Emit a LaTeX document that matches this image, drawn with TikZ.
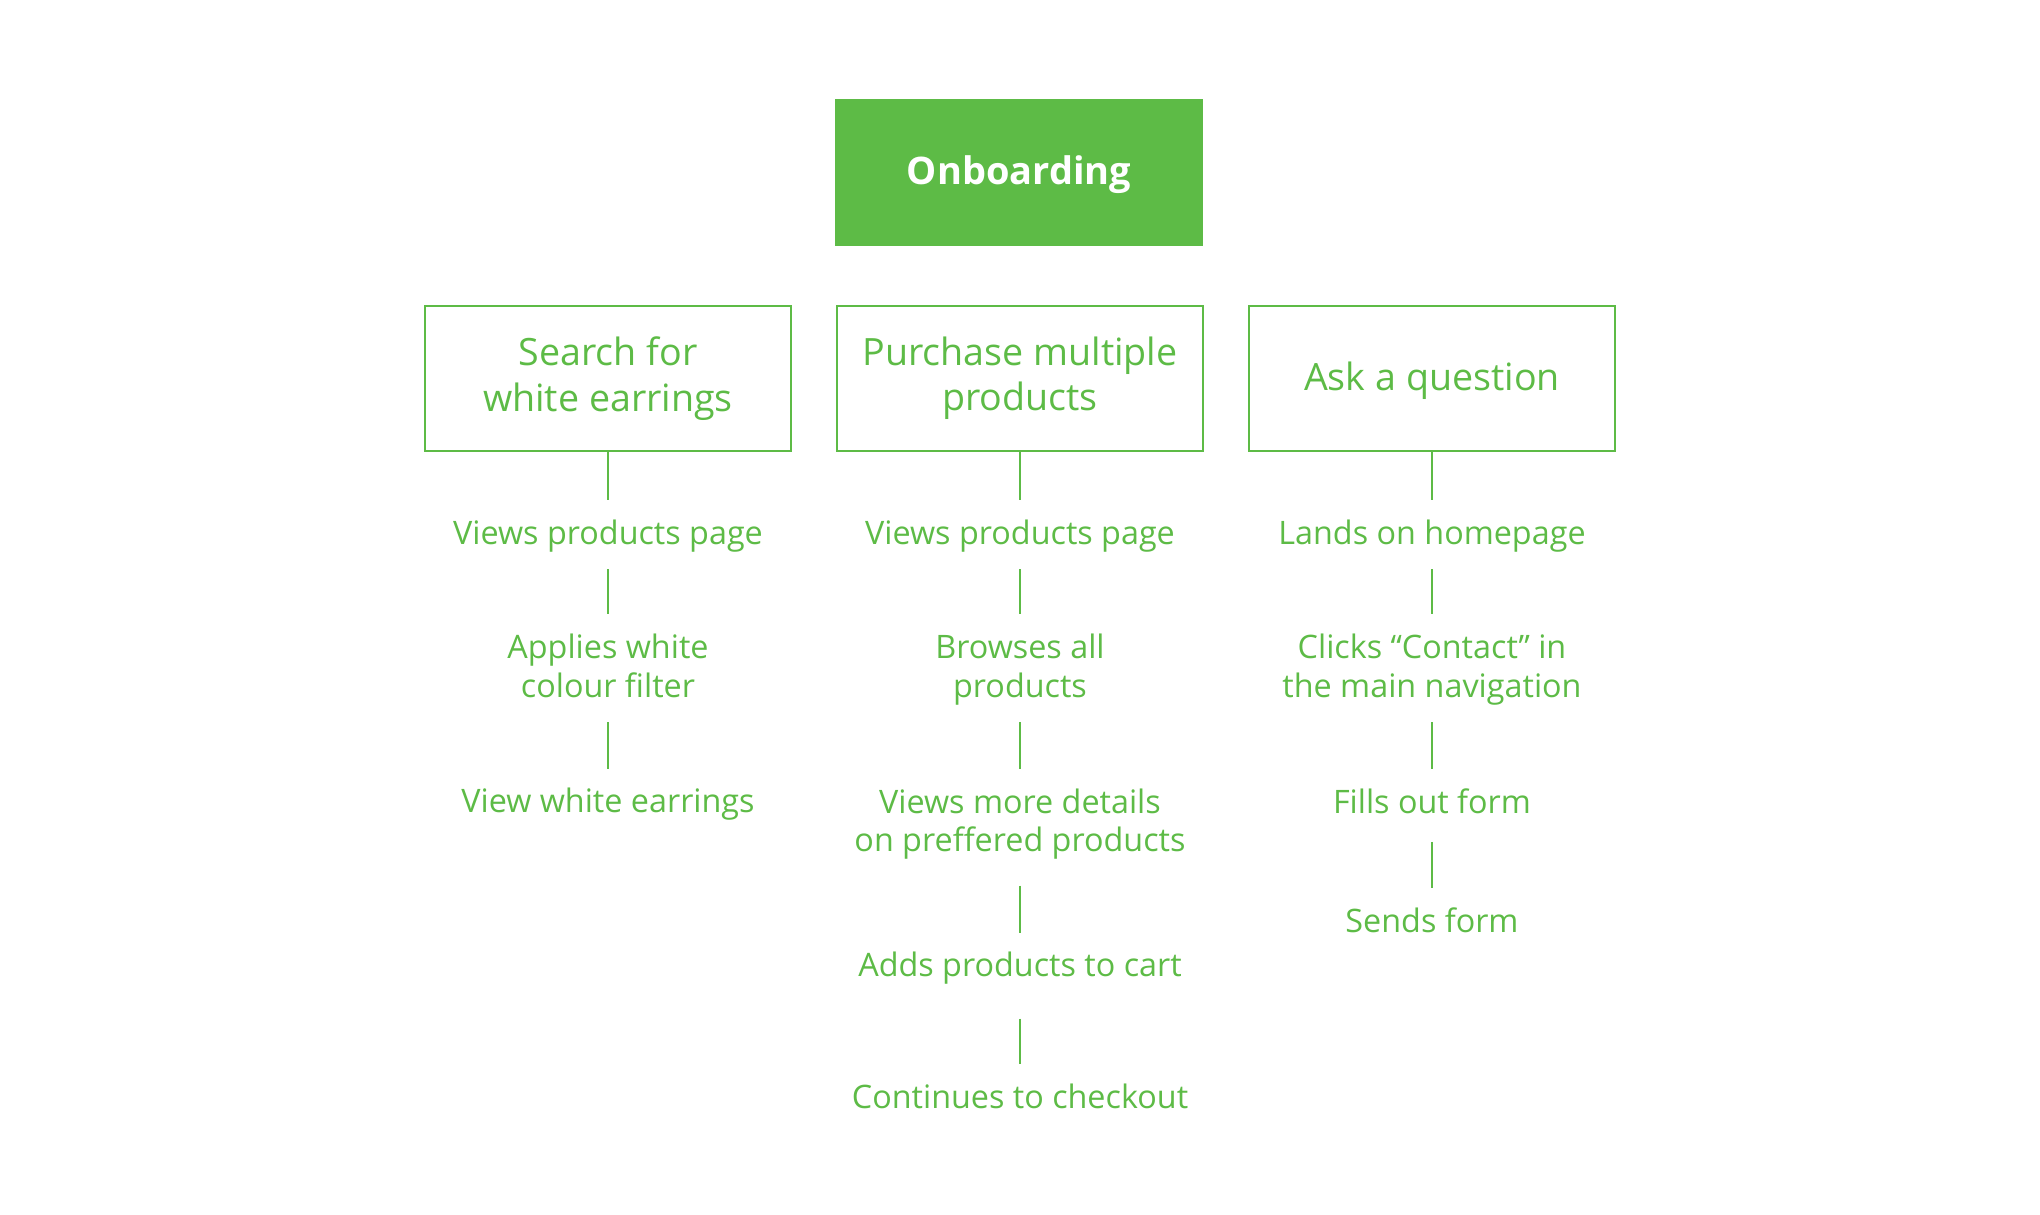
\documentclass[tikz,border=0pt]{standalone}
\usepackage{fontspec}
\setmainfont{Open Sans}
\usetikzlibrary{positioning}
\definecolor{brand}{HTML}{5DBB46}
\tikzset{
  title/.style={fill=brand,text=white,minimum width=3.68cm,minimum height=1.465cm,font=\fontsize{10.8pt}{13pt}\selectfont\bfseries,
    execute at begin node=\rule{0pt}{9.7pt}},
  goal/.style={draw=brand,text=brand,minimum width=3.66cm,minimum height=1.45cm,align=center,font=\fontsize{10.7pt}{12.9pt}\selectfont,
    execute at begin node=\rule{0pt}{9.6pt}},
  stage/.style={text=brand,align=center,inner xsep=0pt,inner ysep=1.6mm,font=\fontsize{9.2pt}{11pt}\selectfont,
    execute at begin node=\vphantom{l},execute at end node=\vphantom{g}},
  link/.style={draw=brand,shorten >=0.25mm}
}

\begin{document}
\begin{tikzpicture}[line width=0.6pt]
  \useasboundingbox (0,0) rectangle (20.40,-12.15);

  \node[title] (onb) at (10.19,-1.725) {Onboarding};

  % goals
  \node[goal] (g1) at (6.08,-3.785) {Search for\\white earrings};
  \node[goal] (g2) at (10.20,-3.785) {Purchase multiple\\products};
  \node[goal] (g3) at (14.32,-3.785) {Ask a question};

  % first journey
  \node[stage] (s11) at (6.08,-5.36) {Views products page};
  \node[stage] (s12) at (6.08,-6.695) {Applies white\\colour filter};
  \node[stage] (s13) at (6.08,-8.045) {View white earrings};

  % second journey
  \node[stage] (s21) at (10.20,-5.36) {Views products page};
  \node[stage] (s22) at (10.20,-6.695) {Browses all\\products};
  \node[stage] (s23) at (10.20,-8.24) {Views more details\\on preffered products};
  \node[stage] (s24) at (10.20,-9.685) {Adds products to cart};
  \node[stage] (s25) at (10.20,-11.00) {Continues to checkout};

  % third journey
  \node[stage] (s31) at (14.32,-5.36) {Lands on homepage};
  \node[stage] (s32) at (14.32,-6.695) {Clicks “Contact” in\\the main navigation};
  \node[stage] (s33) at (14.32,-8.05) {Fills out form};
  \node[stage] (s34) at (14.32,-9.24) {Sends form};

  \draw[link] (g1) -- (s11);
  \draw[link] (s11) -- (s12);
  \draw[link] (s12) -- (s13);

  \draw[link] (g2) -- (s21);
  \draw[link] (s21) -- (s22);
  \draw[link] (s22) -- (s23);
  \draw[link,shorten <=0.9mm] (s23) -- (s24);
  \draw[link,shorten <=1.7mm] (s24) -- (s25);

  \draw[link] (g3) -- (s31);
  \draw[link] (s31) -- (s32);
  \draw[link] (s32) -- (s33);
  \draw[link,shorten <=0.35mm] (s33) -- (s34);
\end{tikzpicture}
\end{document}
